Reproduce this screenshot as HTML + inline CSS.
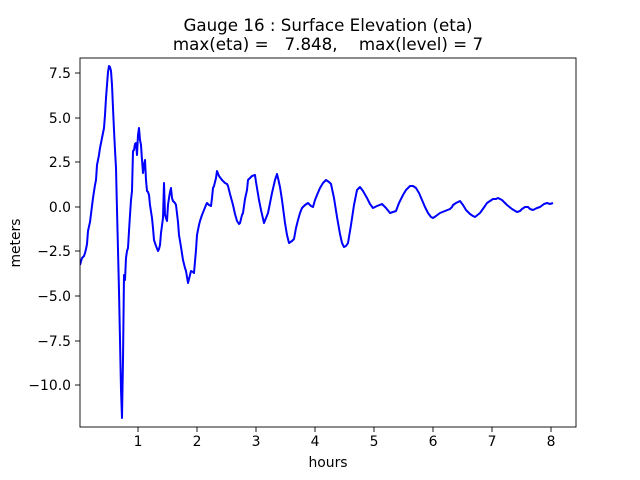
<!DOCTYPE html>
<html><head><meta charset="utf-8"><style>
body{margin:0;background:#fff}
svg{display:block;font-family:"DejaVu Sans","Liberation Sans",sans-serif}
</style></head><body>
<svg width="640" height="480" viewBox="0 0 640 480">
<rect width="640" height="480" fill="#fff"/>
<defs><clipPath id="c"><rect x="80" y="58" width="496" height="369"/></clipPath></defs>
<polyline clip-path="url(#c)" fill="none" stroke="#0000ff" stroke-width="2" stroke-linejoin="round" points="
80,265 82,258 84,256 85,253 86,249 87,244 88,231 90,222 91,214 93,198 95,185 96,180 97,165 99,155 100,148 102,138 103,133 104,128 105,115 106,98 107,85 108,72 109,66 110,67 111,71 112,85 113,108 114,130 115,150 116,168 117,210 118,250 119,291 120,340 121,390 122,418 123,360 124,275 125,280 126,258 127,251 128,248 129,231 130,215 131,200 132,191 133,151 134,150 135,144 136,143 137,155 138,135 139,128 140,140 141,145 142,160 143,173 144,165 145,160 146,180 147,191 148,192 149,195 150,205 152,218 153,228 154,240 156,246 158,251 159,249 160,245 161,233 163,218 164,183 165,215 166,218 167,221 168,205 169,198 170,192 171,188 172,198 173,201 175,203 176,205 178,222 179,235 181,247 183,260 185,268 186,271 187,277 188,283 190,275 191,271 193,272 194,273 196,250 197,235 199,225 200,221 202,215 204,210 206,205 207,203 209,205 211,206 212,198 213,188 214,186 216,178 217,171 219,176 222,180 224,182 225,183 227,184 228,186 230,194 233,205 235,214 237,221 239,224 240,223 242,215 243,213 245,199 247,190 248,180 250,178 252,176 255,175 256,182 259,200 261,210 264,223 266,218 268,213 270,203 272,193 275,180 277,174 278,178 280,187 282,200 285,223 287,235 289,243 292,241 294,239 296,228 298,220 300,213 302,208 305,205 308,203 311,206 313,207 315,200 317,195 320,188 323,183 326,180 329,182 331,184 334,198 337,217 340,234 342,243 344,247 346,246 348,243 351,225 354,205 357,190 360,187 363,191 367,198 370,204 373,208 377,206 382,204 386,208 390,213 393,212 396,211 399,203 403,195 406,190 410,186 413,186 416,188 419,193 422,200 425,207 428,213 431,217 433,218 436,216 440,213 445,211 450,209 452,207 453,205 456,203 460,201 463,205 466,210 470,214 473,216 475,217 480,213 485,206 487,203 490,201 493,199 496,199 498,198 502,200 507,205 512,209 517,212 520,211 522,209 525,207 528,207 530,209 533,210 537,208 540,207 544,204 547,203 550,204 553,203"/>
<rect x="80" y="58" width="496" height="369" fill="none" stroke="#000" stroke-width="0.9"/>
<g stroke="#000" stroke-width="0.9">
<line x1="138" y1="427" x2="138" y2="432"/><line x1="197" y1="427" x2="197" y2="432"/><line x1="256" y1="427" x2="256" y2="432"/><line x1="315" y1="427" x2="315" y2="432"/><line x1="374" y1="427" x2="374" y2="432"/><line x1="433" y1="427" x2="433" y2="432"/><line x1="492" y1="427" x2="492" y2="432"/><line x1="551" y1="427" x2="551" y2="432"/>
<line x1="75" y1="73" x2="80" y2="73"/><line x1="75" y1="118" x2="80" y2="118"/><line x1="75" y1="162" x2="80" y2="162"/><line x1="75" y1="207" x2="80" y2="207"/><line x1="75" y1="251" x2="80" y2="251"/><line x1="75" y1="296" x2="80" y2="296"/><line x1="75" y1="341" x2="80" y2="341"/><line x1="75" y1="385" x2="80" y2="385"/>
</g>
<g font-size="13.9" fill="#000" text-anchor="middle">
<text x="138" y="446">1</text><text x="197" y="446">2</text><text x="256" y="446">3</text><text x="315" y="446">4</text><text x="374" y="446">5</text><text x="433" y="446">6</text><text x="492" y="446">7</text><text x="551" y="446">8</text>
</g>
<g font-size="13.9" fill="#000" text-anchor="end">
<text x="71" y="78">7.5</text><text x="71" y="123">5.0</text><text x="71" y="167">2.5</text><text x="71" y="212">0.0</text><text x="71" y="256">−2.5</text><text x="71" y="301">−5.0</text><text x="71" y="346">−7.5</text><text x="71" y="390">−10.0</text>
</g>
<text x="328" y="467" font-size="13.9" text-anchor="middle">hours</text>
<text transform="translate(20,243) rotate(-90)" font-size="13.9" text-anchor="middle">meters</text>
<text x="328" y="31" font-size="16.7" text-anchor="middle">Gauge 16 : Surface Elevation (eta)</text>
<text x="328" y="50" font-size="16.7" text-anchor="middle" xml:space="preserve">max(eta) =   7.848,    max(level) = 7</text>
</svg>
</body></html>
